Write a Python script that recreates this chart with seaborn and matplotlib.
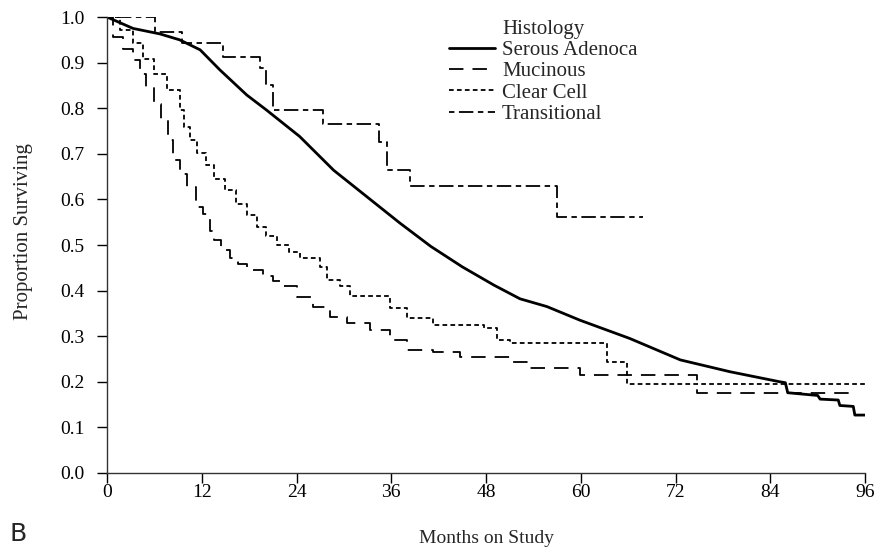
import matplotlib
matplotlib.use('Agg')
import matplotlib.pyplot as plt
import seaborn as sns
import pandas as pd

sns.set_style('ticks')
plt.rcParams['font.family'] = ['Liberation Serif', 'DejaVu Serif']

# Kaplan-Meier curves
serous_months = [0, 3.3, 6.7, 9.2, 11.8, 14.3, 17.7, 20.2, 24.4, 28.7, 32.9, 37.1, 41.0, 45.0,
                 49.0, 52.3, 55.7, 59.9, 66.2, 72.6, 78.9, 85.2, 85.9, 86.2, 90.0, 90.3, 92.6,
                 92.8, 94.5, 94.7, 96.0]
serous_surv = [1.0, 0.975, 0.963, 0.950, 0.928, 0.884, 0.829, 0.796, 0.738, 0.664, 0.606, 0.548,
               0.497, 0.452, 0.412, 0.382, 0.365, 0.335, 0.295, 0.248, 0.222, 0.200, 0.198, 0.176,
               0.170, 0.162, 0.160, 0.148, 0.146, 0.127, 0.127]

mucinous_months = [0, 0.8, 2.0, 3.3, 4.2, 5.0, 6.0, 6.9, 7.7, 8.4, 9.2, 10.1, 11.3, 12.2, 13.0,
                   13.5, 14.5, 15.6, 16.6, 17.7, 19.8, 21.0, 21.9, 24.0, 26.1, 28.2, 30.4, 33.3,
                   35.8, 38.0, 41.3, 44.7, 51.0, 53.6, 59.9, 74.7, 95.0]
mucinous_surv = [1.0, 0.957, 0.930, 0.906, 0.875, 0.847, 0.810, 0.774, 0.730, 0.686, 0.655, 0.628,
                 0.584, 0.569, 0.530, 0.511, 0.490, 0.471, 0.458, 0.445, 0.431, 0.420, 0.409, 0.385,
                 0.365, 0.343, 0.328, 0.314, 0.292, 0.270, 0.266, 0.255, 0.243, 0.230, 0.215, 0.175,
                 0.175]

clear_months = [0, 1.6, 3.3, 4.6, 5.9, 7.6, 9.2, 9.7, 10.5, 11.4, 12.5, 13.5, 15.0, 16.4, 17.7,
                19.0, 20.2, 21.5, 23.0, 24.4, 27.0, 27.8, 29.5, 30.8, 35.8, 38.0, 41.3, 47.7,
                49.4, 51.0, 63.3, 65.8, 96.0]
clear_surv = [1.0, 0.971, 0.942, 0.909, 0.876, 0.840, 0.796, 0.759, 0.730, 0.701, 0.675, 0.645,
              0.620, 0.591, 0.565, 0.540, 0.520, 0.500, 0.485, 0.471, 0.452, 0.423, 0.409, 0.388,
              0.361, 0.339, 0.325, 0.317, 0.292, 0.285, 0.243, 0.195, 0.195]

trans_months = [0, 6.1, 9.5, 14.7, 19.4, 20.1, 21.0, 27.4, 34.4, 35.4, 38.4, 57.0, 67.9]
trans_surv = [1.0, 0.968, 0.942, 0.913, 0.888, 0.851, 0.796, 0.765, 0.727, 0.664, 0.629, 0.561,
              0.561]

x_ticks = [0, 12, 24, 36, 48, 60, 72, 84, 96]
y_ticks = [0.0, 0.1, 0.2, 0.3, 0.4, 0.5, 0.6, 0.7, 0.8, 0.9, 1.0]

curves = [
    ('Serous Adenoca', serous_months, serous_surv, 'default', (None, None), 2.0),
    ('Mucinous', mucinous_months, mucinous_surv, 'steps-post', (8, 5), 1.3),
    ('Clear Cell', clear_months, clear_surv, 'steps-post', (2.6, 1.8), 1.3),
    ('Transitional', trans_months, trans_surv, 'steps-post', (3, 2.5, 8, 2.5), 1.3),
]

fig = plt.figure(figsize=(8.79, 5.51), dpi=100)
ax = fig.add_axes([0.1217, 0.1416, 0.8625, 0.8275])

for name, months, surv, ds, dash, lw in curves:
    df = pd.DataFrame({'month': months, 'surv': surv})
    kw = {} if dash[0] is None else {'dashes': dash}
    sns.lineplot(data=df, x='month', y='surv', ax=ax, color='black', lw=lw,
                 drawstyle=ds, estimator=None, sort=False, label=name, **kw)

ax.set_xlim(0, 96)
ax.set_ylim(0, 1.0)
ax.set_xticks(x_ticks)
ax.set_yticks(y_ticks)
ax.set_yticklabels(['%.1f' % v for v in y_ticks])
ax.tick_params(direction='out', length=7, width=1, labelsize=14, colors='black')
ax.tick_params(axis='y', pad=9)
ax.tick_params(axis='x', pad=1)
for s in ['top', 'right']:
    ax.spines[s].set_visible(False)
for s in ['left', 'bottom']:
    ax.spines[s].set_linewidth(1.0)
    ax.spines[s].set_color('#333333')

ax.set_xlabel('Months on Study', fontsize=14, labelpad=21)
ax.set_ylabel('Proportion Surviving', fontsize=15)
ax.yaxis.set_label_coords(-0.098, 0.53)

leg = ax.legend(title='Histology', loc='upper left', bbox_to_anchor=(0.44, 1.012),
                frameon=False, fontsize=15, title_fontsize=15, handlelength=2.2,
                handletextpad=0.35, labelspacing=0.08, borderaxespad=0)

fig.text(0.011, 0.018, 'B', fontsize=18, family='DejaVu Sans')

plt.savefig('out.png', dpi=100)
